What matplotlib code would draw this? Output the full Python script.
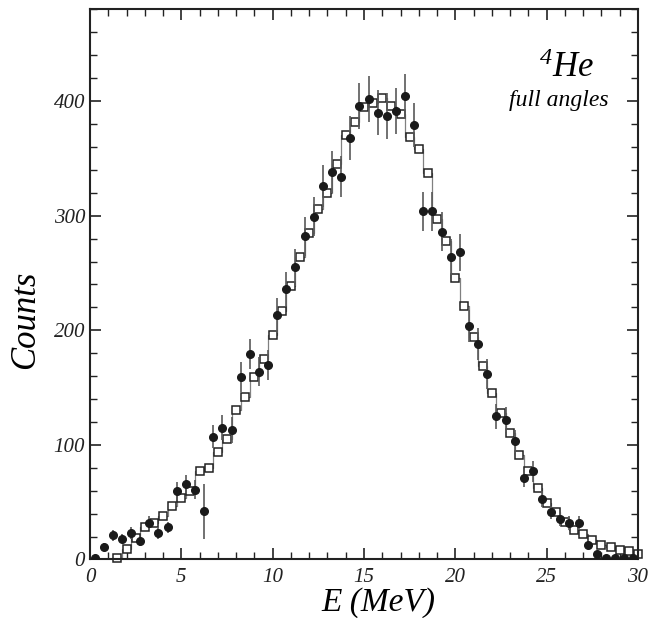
import numpy as np
import matplotlib
matplotlib.use("Agg")
import matplotlib.pyplot as plt
from matplotlib.ticker import MultipleLocator

plt.rcParams['font.family'] = ['Liberation Serif', 'DejaVu Serif']
plt.rcParams['font.style'] = 'italic'
plt.rcParams['mathtext.fontset'] = 'custom'
plt.rcParams['mathtext.rm'] = 'Liberation Serif:italic'
plt.rcParams['mathtext.it'] = 'Liberation Serif:italic'

# measured spectrum (filled circles), 0.5 MeV bins
data_E = np.arange(0.25, 30.0, 0.5)
data_counts = [1, 11, 21, 18, 23, 16, 32, 23, 28, 60,
               66, 61, 42, 107, 115, 113, 159, 179, 164, 170,
               213, 236, 255, 282, 299, 326, 338, 334, 368, 396,
               402, 390, 387, 391, 404, 379, 304, 304, 286, 264,
               268, 204, 188, 162, 125, 122, 103, 71, 77, 53,
               41, 35, 32, 32, 13, 5, 1, 1, 1, 1]
data_err = [1, 3, 5, 4, 5, 4, 6, 5, 5, 8,
            8, 8, 24, 10, 11, 11, 13, 13, 13, 13,
            15, 15, 16, 17, 17, 18, 18, 18, 19, 20,
            20, 20, 20, 20, 20, 19, 17, 17, 17, 16,
            16, 14, 14, 13, 11, 11, 10, 8, 9, 7,
            6, 6, 6, 6, 4, 2, 0, 0, 0, 0]

# simulation (open squares)
sim_E = np.arange(1.5, 30.01, 0.5)
sim_counts = [1, 9, 18.5, 28, 32, 38, 47, 54, 60, 77.5,
              79.5, 93.5, 105, 130.5, 141.5, 159.5, 175, 196, 217, 239,
              264, 285, 306, 320, 345, 370, 381.5, 395, 398, 402.5,
              396, 388.5, 369, 358, 337, 297, 278, 245.5, 221, 194,
              169, 145, 128, 110, 91, 77, 62.5, 49.5, 41.5, 33,
              26, 22, 17, 12.5, 11, 8.5, 7, 5]

fig = plt.figure(figsize=(6.65, 6.18), dpi=100)
ax = fig.add_axes([0.1353, 0.0947, 0.8241, 0.8901])

ax.step(sim_E, sim_counts, where='mid', color='0.5', lw=0.9, zorder=1)
ax.errorbar(data_E, data_counts, yerr=data_err, fmt='o', ms=5.5,
            color='#1a1a1a', ecolor='0.35', elinewidth=1.2, capsize=0, zorder=3)
ax.plot(sim_E, sim_counts, 's', ms=5.3, mfc='white', mec='#222222',
        mew=1.1, zorder=2, clip_on=False)

ax.set_xlim(0, 30)
ax.set_ylim(0, 480)
ax.xaxis.set_major_locator(MultipleLocator(5))
ax.xaxis.set_minor_locator(MultipleLocator(1))
ax.yaxis.set_major_locator(MultipleLocator(100))
ax.yaxis.set_minor_locator(MultipleLocator(20))
ax.tick_params(which='both', direction='in', top=True, right=True,
               labelsize=15, colors='#222222')
ax.tick_params(which='major', length=8, width=1.2)
ax.tick_params(which='minor', length=5, width=1.0)
ax.tick_params(axis='x', pad=6)
for s in ax.spines.values():
    s.set_linewidth(1.5)
    s.set_color('#222222')

ax.set_xlabel('E (MeV)', fontsize=24, labelpad=0)
ax.set_ylabel('Counts', fontsize=25, labelpad=8)
ax.xaxis.label.set_x(0.526)
ax.yaxis.label.set_y(0.435)

ax.text(0.869, 0.893, r'$^{4}$He', transform=ax.transAxes, fontsize=25,
        ha='center', va='center')
ax.text(0.855, 0.835, 'full angles', transform=ax.transAxes, fontsize=17,
        ha='center', va='center')

fig.savefig('out.png', dpi=100)
